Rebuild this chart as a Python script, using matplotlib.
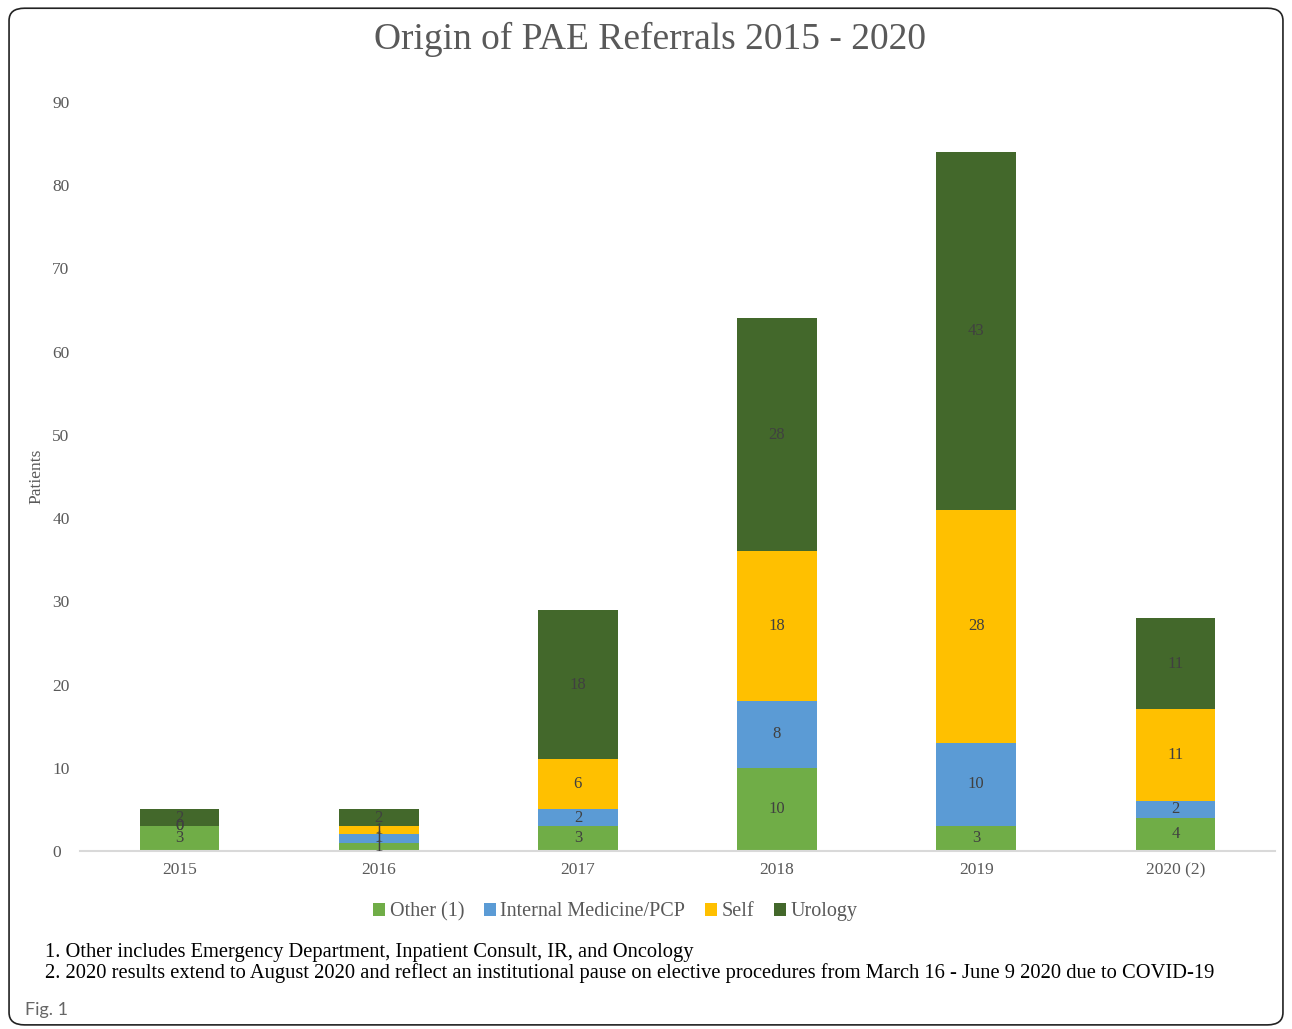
import numpy as np
import matplotlib.pyplot as plt
from matplotlib.patches import FancyBboxPatch

# Données
years = ['2015', '2016', '2017', '2018', '2019', '2020 (2)']
other = [3, 1, 3, 10, 3, 4]
internal_med = [0, 1, 2, 8, 10, 2]
self_ref = [0, 1, 6, 18, 28, 11]
urology = [2, 2, 18, 28, 43, 11]

series_names = ['Other (1)', 'Internal Medicine/PCP', 'Self', 'Urology']
series_colors = ['#70AD47', '#5B9BD5', '#FFC000', '#43682B']
footnotes = ['1. Other includes Emergency Department, Inpatient Consult, IR, and Oncology',
             '2. 2020 results extend to August 2020 and reflect an institutional pause on '
             'elective procedures from March 16 - June 9 2020 due to COVID-19']

serif = 'Liberation Serif'
grey = '#595959'

fig = plt.figure(figsize=(12.92, 10.29), dpi=100)

# cadre arrondi
fig.patches.append(FancyBboxPatch((0.007, 0.004), 0.986, 0.988,
                                  boxstyle='round,pad=0,rounding_size=0.012',
                                  transform=fig.transFigure, fill=False,
                                  edgecolor='#222222', linewidth=1.2))

ax = fig.add_axes([0.0619, 0.173, 0.9249, 0.728])
x = np.arange(len(years))
bottom = np.zeros(len(years))
for name, vals, col in zip(series_names, [other, internal_med, self_ref, urology], series_colors):
    vals = np.array(vals, dtype=float)
    ax.bar(x, vals, 0.4, bottom=bottom, color=col, label=name, zorder=2)
    for xi, b, v in zip(x, bottom, vals):
        ax.text(xi, b + v / 2, f'{int(v)}', ha='center', va='center',
                fontsize=12, family=serif, color='#404040', zorder=3)
    bottom += vals

ax.set_xlim(-0.5, len(years) - 0.5)
ax.set_ylim(0, 90)
ax.set_yticks(range(0, 91, 10))
ax.set_xticks(x)
ax.set_xticklabels(years)
for s in ['top', 'right', 'left']:
    ax.spines[s].set_visible(False)
ax.spines['bottom'].set_color('#D9D9D9')
ax.spines['bottom'].set_linewidth(1.5)
ax.tick_params(axis='both', length=0, labelsize=12.5, labelcolor=grey)
ax.tick_params(axis='y', pad=20)
ax.tick_params(axis='x', pad=8)
for lbl in ax.get_xticklabels() + ax.get_yticklabels():
    lbl.set_family(serif)
for lbl in ax.get_yticklabels():
    lbl.set_horizontalalignment('left')
ax.set_ylabel('Patients', family=serif, fontsize=12.5, color=grey)
ax.yaxis.set_label_coords(-0.030, 0.5)

fig.text(0.503, 0.962, 'Origin of PAE Referrals 2015 - 2020', ha='center', va='center',
         family=serif, fontsize=27, color=grey)

ax.legend(loc='center', bbox_to_anchor=(0.448, -0.081), ncol=4, frameon=False,
          prop={'family': serif, 'size': 14.5}, labelcolor=grey,
          handlelength=0.6, handleheight=0.6, handletextpad=0.2, columnspacing=1.0)

fig.text(0.035, 0.074, footnotes[0], family=serif, fontsize=14.8, color='black', va='center')
fig.text(0.035, 0.054, footnotes[1], family=serif, fontsize=14.8, color='black', va='center')
fig.text(0.019, 0.018, 'Fig. 1', family='Lato', fontsize=13, color='#666666', va='center')

fig.savefig('out.png', dpi=100)
